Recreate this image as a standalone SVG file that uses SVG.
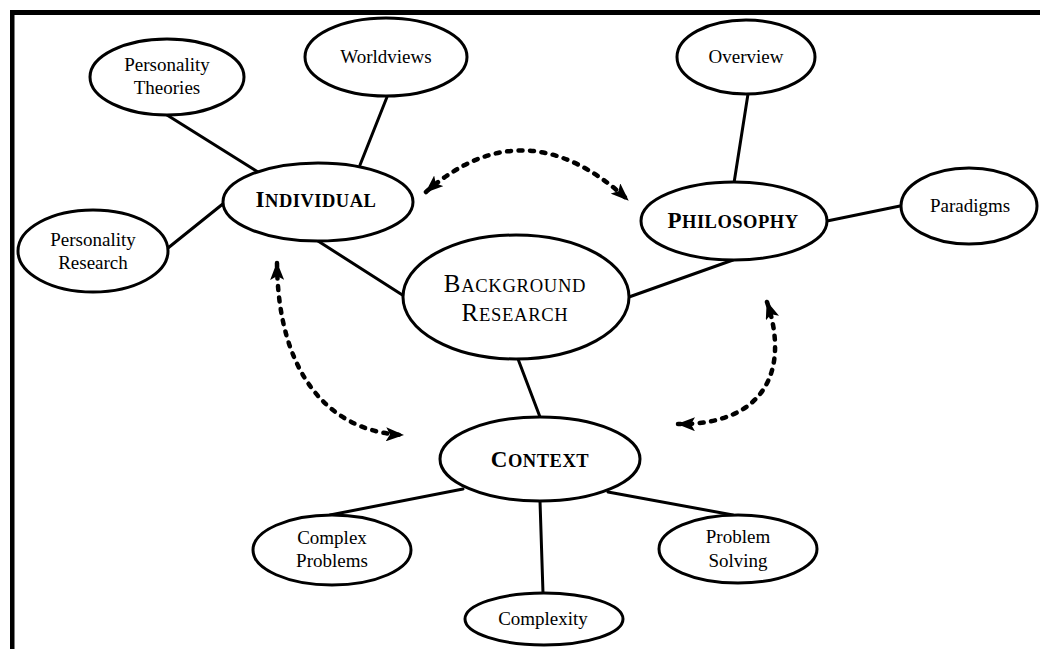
<svg xmlns="http://www.w3.org/2000/svg" width="1040" height="649" viewBox="0 0 1040 649">
<defs>
<style>
.frame{fill:#000}
.link{stroke:#000;stroke-width:3;fill:none;stroke-linecap:round}
.dash{stroke:#000;stroke-width:4.5;fill:none;stroke-linecap:round;stroke-dasharray:4 7.5}
.node ellipse{fill:#fff;stroke:#000;stroke-width:3}
.lbl{font-family:"Liberation Serif","Times New Roman",serif;font-size:19px;fill:#000;text-anchor:middle}
.main{font-family:"Liberation Serif","Times New Roman",serif;font-weight:bold;fill:#000;text-anchor:middle;letter-spacing:0.5px}
.bg{font-family:"Liberation Serif","Times New Roman",serif;fill:#000;text-anchor:middle;letter-spacing:0.7px}
.big{font-size:23px}
.sm{font-size:18.5px}
.bbig{font-size:25px}
.bsm{font-size:18.6px}
</style>
<marker id="ah" viewBox="0 0 18 14" markerUnits="userSpaceOnUse" markerWidth="18" markerHeight="14" refX="17" refY="7" orient="auto-start-reverse">
<path d="M0,0 L18,7 L0,14 L4,7 z" fill="#000"/>
</marker>
</defs>
<rect width="1040" height="649" fill="#fff"/>
<g id="frame">
<rect class="frame" x="10" y="10" width="1030" height="5"/>
<rect class="frame" x="10" y="10" width="4.5" height="639"/>
</g>
<g id="connectors">
<line class="link" x1="167" y1="115" x2="258" y2="172"/>
<line class="link" x1="387" y1="97" x2="360" y2="165"/>
<line class="link" x1="168" y1="248" x2="224" y2="203"/>
<line class="link" x1="318" y1="241" x2="404" y2="296"/>
<line class="link" x1="748" y1="94" x2="734" y2="183"/>
<line class="link" x1="827" y1="221" x2="900" y2="206"/>
<line class="link" x1="629" y1="297" x2="733" y2="260"/>
<line class="link" x1="518" y1="359" x2="540" y2="417"/>
<line class="link" x1="463" y1="489" x2="330" y2="515"/>
<line class="link" x1="608" y1="492" x2="733" y2="515"/>
<line class="link" x1="540" y1="501" x2="543" y2="593"/>
<path class="dash" d="M426 192 Q525 105 628 200" marker-start="url(#ah)" marker-end="url(#ah)"/>
<path class="dash" d="M277 263 C278 375 330 432 403 435" marker-start="url(#ah)" marker-end="url(#ah)"/>
<path class="dash" d="M767 302 C790 370 765 425 678 424" marker-start="url(#ah)" marker-end="url(#ah)"/>
</g>
<g id="personality-theories" class="node">
<ellipse cx="167" cy="77" rx="77" ry="38"/>
<text class="lbl" x="167" y="71">Personality</text>
<text class="lbl" x="167" y="94">Theories</text>
</g>
<g id="worldviews" class="node">
<ellipse cx="386" cy="57" rx="81" ry="39"/>
<text class="lbl" x="386" y="63">Worldviews</text>
</g>
<g id="personality-research" class="node">
<ellipse cx="93" cy="251" rx="75" ry="41"/>
<text class="lbl" x="93" y="246">Personality</text>
<text class="lbl" x="93" y="269">Research</text>
</g>
<g id="individual" class="node">
<ellipse cx="318" cy="202" rx="95" ry="39"/>
<text class="main" x="316" y="207"><tspan class="big">I</tspan><tspan class="sm">NDIVIDUAL</tspan></text>
</g>
<g id="overview" class="node">
<ellipse cx="746" cy="57" rx="69" ry="37"/>
<text class="lbl" x="746" y="63">Overview</text>
</g>
<g id="philosophy" class="node">
<ellipse cx="734" cy="221" rx="93" ry="39"/>
<text class="main" x="733" y="228"><tspan class="big">P</tspan><tspan class="sm">HILOSOPHY</tspan></text>
</g>
<g id="paradigms" class="node">
<ellipse cx="969" cy="206" rx="68" ry="38"/>
<text class="lbl" x="970" y="212">Paradigms</text>
</g>
<g id="background-research" class="node">
<ellipse cx="516" cy="297" rx="113" ry="62"/>
<text class="bg" x="515" y="292"><tspan class="bbig">B</tspan><tspan class="bsm">ACKGROUND</tspan></text>
<text class="bg" x="515" y="321"><tspan class="bbig">R</tspan><tspan class="bsm">ESEARCH</tspan></text>
</g>
<g id="context" class="node">
<ellipse cx="540" cy="459" rx="100" ry="42"/>
<text class="main" x="540" y="467"><tspan class="big">C</tspan><tspan class="sm">ONTEXT</tspan></text>
</g>
<g id="complex-problems" class="node">
<ellipse cx="332" cy="550" rx="79" ry="35"/>
<text class="lbl" x="332" y="544">Complex</text>
<text class="lbl" x="332" y="567">Problems</text>
</g>
<g id="problem-solving" class="node">
<ellipse cx="738" cy="549" rx="79" ry="34"/>
<text class="lbl" x="738" y="543">Problem</text>
<text class="lbl" x="738" y="567">Solving</text>
</g>
<g id="complexity" class="node">
<ellipse cx="544" cy="619" rx="79" ry="26"/>
<text class="lbl" x="543" y="625">Complexity</text>
</g>
</svg>
